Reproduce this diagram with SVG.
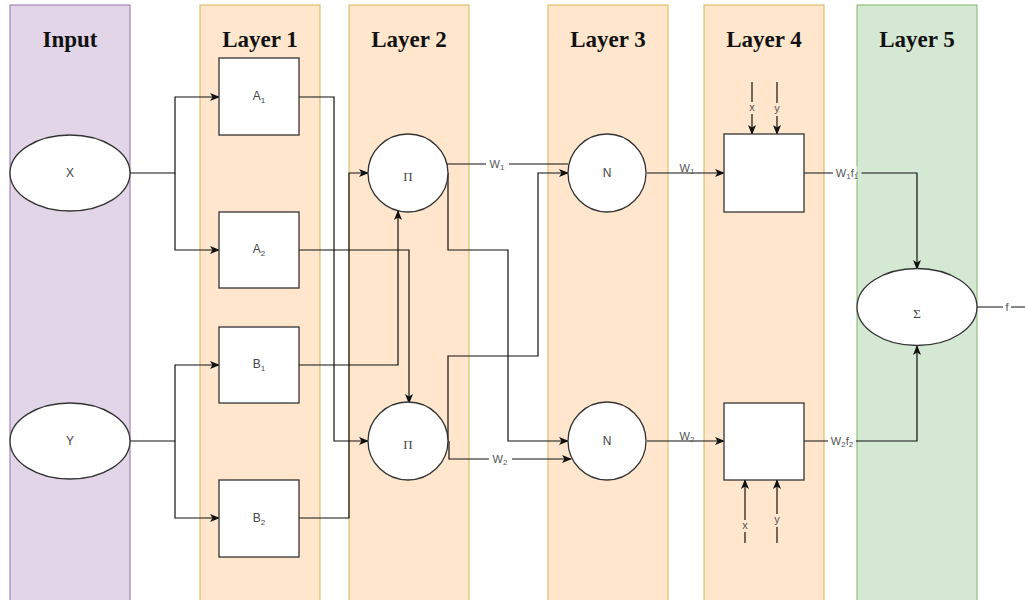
<svg xmlns="http://www.w3.org/2000/svg" width="1025" height="600" viewBox="0 0 1025 600">
<defs>
<marker id="arr" markerUnits="userSpaceOnUse" markerWidth="10" markerHeight="8" refX="9" refY="4" orient="auto">
<path d="M0,0 L10,4 L0,8 L2.5,4 z" fill="#111"/>
</marker>
<style>
.lane-p{fill:#e1d5e7;stroke:#9673a6;stroke-width:1}
.lane-o{fill:#ffe6cc;stroke:#d6b656;stroke-width:1}
.lane-g{fill:#d5e8d4;stroke:#82b366;stroke-width:1}
.hdr{font-family:"Liberation Serif","Times New Roman",serif;font-weight:bold;font-size:23px;fill:#111;text-anchor:middle}
.node{fill:#fff;stroke:#333;stroke-width:1.3}
.nl{font-family:"Liberation Sans",Arial,sans-serif;font-size:12px;fill:#444;text-anchor:middle}
.sym{font-family:"Liberation Serif","Times New Roman",serif;font-size:13px;fill:#444;text-anchor:middle}
.edge{fill:none;stroke:#111;stroke-width:1.2}
.el{font-family:"Liberation Sans",Arial,sans-serif;font-size:11px;fill:#555;text-anchor:middle}
.sub{font-size:8px}
</style>
</defs>

<g id="lanes">
<rect class="lane-p" x="10" y="5" width="120" height="600"/>
<rect class="lane-o" x="200" y="5" width="120" height="600"/>
<rect class="lane-o" x="349" y="5" width="120" height="600"/>
<rect class="lane-o" x="548" y="5" width="120" height="600"/>
<rect class="lane-o" x="704" y="5" width="120" height="600"/>
<rect class="lane-g" x="857" y="5" width="120" height="600"/>
<text class="hdr" x="70" y="47">Input</text>
<text class="hdr" x="260" y="47">Layer 1</text>
<text class="hdr" x="409" y="47">Layer 2</text>
<text class="hdr" x="608" y="47">Layer 3</text>
<text class="hdr" x="764" y="47">Layer 4</text>
<text class="hdr" x="917" y="47">Layer 5</text>
</g>

<g id="connectors">
<path class="edge" d="M130,173 H175 V97 H219" marker-end="url(#arr)"/>
<path class="edge" d="M175,173 V250 H219" marker-end="url(#arr)"/>
<path class="edge" d="M130,441 H175 V365 H219" marker-end="url(#arr)"/>
<path class="edge" d="M175,441 V518 H219" marker-end="url(#arr)"/>
<path class="edge" d="M299,97 H334 V441 H368" marker-end="url(#arr)"/>
<path class="edge" d="M299,250 H409 V403" marker-end="url(#arr)"/>
<path class="edge" d="M299,365 H398 V211" marker-end="url(#arr)"/>
<path class="edge" d="M299,518 H349 V173 H368" marker-end="url(#arr)"/>
<path class="edge" d="M447,164 H568"/>
<path class="edge" d="M448,173 V250 H508 V441 H568" marker-end="url(#arr)"/>
<path class="edge" d="M448,441 V356 H538 V173 H568" marker-end="url(#arr)"/>
<path class="edge" d="M449,441 V459 H571" marker-end="url(#arr)"/>
<path class="edge" d="M647,173 H724" marker-end="url(#arr)"/>
<path class="edge" d="M647,441 H724" marker-end="url(#arr)"/>
<path class="edge" d="M752,82 V134" marker-end="url(#arr)"/>
<path class="edge" d="M777,82 V134" marker-end="url(#arr)"/>
<path class="edge" d="M745,543 V480" marker-end="url(#arr)"/>
<path class="edge" d="M777,543 V480" marker-end="url(#arr)"/>
<path class="edge" d="M804,173 H917 V269" marker-end="url(#arr)"/>
<path class="edge" d="M804,441 H917 V346" marker-end="url(#arr)"/>
<path class="edge" d="M977,307 H1025"/>

<rect x="486" y="157" width="23" height="14" fill="#fff"/>
<text class="el" x="497" y="168">W<tspan class="sub" dy="2">1</tspan></text>
<rect x="489" y="452" width="23" height="14" fill="#fff"/>
<text class="el" x="500" y="463">W<tspan class="sub" dy="2">2</tspan></text>
<text class="el" x="687" y="172">W<tspan class="sub" dy="2">1</tspan></text>
<text class="el" x="687" y="440">W<tspan class="sub" dy="2">2</tspan></text>
<rect x="747" y="102" width="10" height="12" fill="#ffe6cc"/>
<text class="el" x="752" y="111">x</text>
<rect x="772" y="103" width="10" height="13" fill="#ffe6cc"/>
<text class="el" x="777" y="112">y</text>
<rect x="740" y="520" width="10" height="12" fill="#ffe6cc"/>
<text class="el" x="745" y="529">x</text>
<rect x="772" y="514" width="10" height="13" fill="#ffe6cc"/>
<text class="el" x="777" y="523">y</text>
<rect x="833" y="166" width="23.5" height="14" fill="#fff"/>
<rect x="857.5" y="166" width="4" height="14" fill="#d5e8d4"/>
<text class="el" x="847" y="177">W<tspan class="sub" dy="2">1</tspan><tspan dy="-2">f</tspan><tspan class="sub" dy="2">1</tspan></text>
<rect x="828" y="434" width="28" height="14" fill="#fff"/>
<text class="el" x="842" y="445">W<tspan class="sub" dy="2">2</tspan><tspan dy="-2">f</tspan><tspan class="sub" dy="2">2</tspan></text>
<rect x="1003" y="300" width="8" height="13" fill="#fff"/>
<text class="el" x="1007" y="311">f</text>
</g>

<g id="node-x"><ellipse class="node" cx="70" cy="173" rx="60" ry="38"/><text class="nl" x="70" y="177">X</text></g>
<g id="node-y"><ellipse class="node" cx="70" cy="441" rx="60" ry="38"/><text class="nl" x="70" y="445">Y</text></g>
<g id="node-a1"><rect class="node" x="219" y="58" width="80" height="77"/><text class="nl" x="259" y="100">A<tspan class="sub" dy="3">1</tspan></text></g>
<g id="node-a2"><rect class="node" x="219" y="212" width="80" height="76"/><text class="nl" x="259" y="253">A<tspan class="sub" dy="3">2</tspan></text></g>
<g id="node-b1"><rect class="node" x="219" y="327" width="80" height="76"/><text class="nl" x="259" y="368">B<tspan class="sub" dy="3">1</tspan></text></g>
<g id="node-b2"><rect class="node" x="219" y="480" width="80" height="77"/><text class="nl" x="259" y="522">B<tspan class="sub" dy="3">2</tspan></text></g>
<g id="node-pi1"><ellipse class="node" cx="408" cy="173" rx="40" ry="39"/><text class="sym" x="408" y="181">Π</text></g>
<g id="node-pi2"><ellipse class="node" cx="408" cy="441" rx="40" ry="39"/><text class="sym" x="408" y="449">Π</text></g>
<g id="node-n1"><ellipse class="node" cx="607" cy="173" rx="39" ry="39"/><text class="nl" x="607" y="177">N</text></g>
<g id="node-n2"><ellipse class="node" cx="607" cy="441" rx="39" ry="39"/><text class="nl" x="607" y="445">N</text></g>
<g id="node-l4a"><rect class="node" x="724" y="134" width="80" height="78"/></g>
<g id="node-l4b"><rect class="node" x="724" y="403" width="80" height="77"/></g>
<g id="node-sum"><ellipse class="node" cx="917" cy="307" rx="60" ry="38.5"/><text class="sym" x="917" y="318">Σ</text></g>
</svg>
